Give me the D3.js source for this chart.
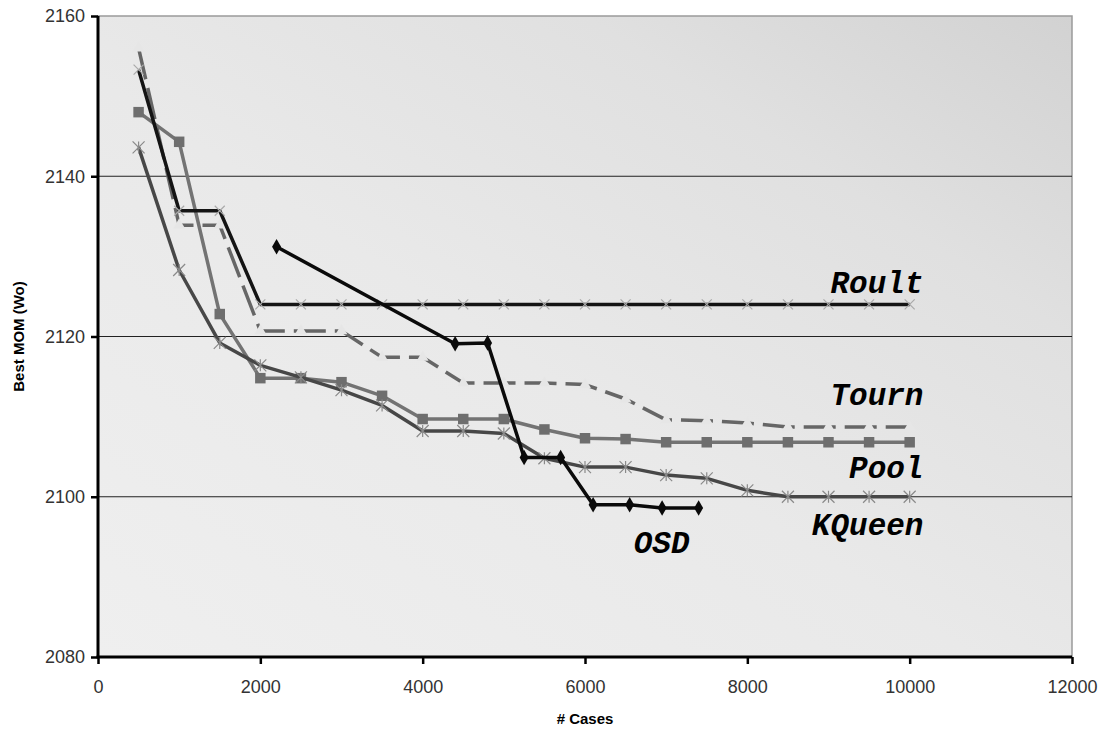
<!DOCTYPE html>
<html>
<head>
<meta charset="utf-8">
<script src="https://cdn.jsdelivr.net/npm/d3@7"></script>
<style>
    body { margin: 0; background: #fff; }
    svg { display: block; }
</style>
</head>
<body>
<div class="chart"></div>
<script>
// Data
const cases = [500, 1000, 1500, 2000, 2500, 3000, 3500, 4000, 4500, 5000,
    5500, 6000, 6500, 7000, 7500, 8000, 8500, 9000, 9500, 10000];
const roult = [2153.3, 2135.7, 2135.7, 2124.0, 2124.0, 2124.0, 2124.0, 2124.0, 2124.0, 2124.0,
    2124.0, 2124.0, 2124.0, 2124.0, 2124.0, 2124.0, 2124.0, 2124.0, 2124.0, 2124.0];
const tourn = [2156.0, 2133.9, 2133.9, 2120.7, 2120.7, 2120.7, 2117.4, 2117.4, 2114.2, 2114.2,
    2114.2, 2114.0, 2112.2, 2109.6, 2109.5, 2109.2, 2108.7, 2108.7, 2108.7, 2108.7];
const pool = [2148.0, 2144.3, 2122.8, 2114.8, 2114.8, 2114.3, 2112.6, 2109.7, 2109.7, 2109.7,
    2108.4, 2107.3, 2107.2, 2106.8, 2106.8, 2106.8, 2106.8, 2106.8, 2106.8, 2106.8];
const kqueen = [2143.6, 2128.3, 2119.2, 2116.4, 2114.9, 2113.3, 2111.4, 2108.2, 2108.2, 2107.9,
    2104.8, 2103.7, 2103.7, 2102.7, 2102.3, 2100.8, 2100.0, 2100.0, 2100.0, 2100.0];
const osdCases = [2200, 4400, 4800, 5250, 5700, 6100, 6550, 6950, 7400];
const osd = [2131.2, 2119.1, 2119.2, 2104.9, 2104.9, 2099.0, 2099.0, 2098.6, 2098.6];

const xTicks = [0, 2000, 4000, 6000, 8000, 10000, 12000];
const yTicks = [2080, 2100, 2120, 2140, 2160];

// label anchors (data units, right edge / baseline)
const labelNames = ["Roult", "Tourn", "Pool", "KQueen"];
const labelY = [2125.4, 2111.4, 2102.4, 2095.2];
const labelX = 10170;
const osdLabel = { name: "OSD", x: 6600, y: 2093.0 };

// SVG properties
const width = 1108, height = 732;
const plotLeft = 98, plotRight = 1072, plotTop = 16, plotBottom = 657;

const svg = d3.select(".chart").append("svg")
    .attr("width", width)
    .attr("height", height);

const xScale = d3.scaleLinear().domain([0, 12000]).range([plotLeft, plotRight]);
const yScale = d3.scaleLinear().domain([2080, 2160]).range([plotBottom, plotTop]);

// background gradient
const defs = svg.append("defs");
const grad = defs.append("linearGradient")
    .attr("id", "bg")
    .attr("x1", "0%").attr("y1", "100%")
    .attr("x2", "100%").attr("y2", "0%");
grad.append("stop").attr("offset", "0%").attr("stop-color", "#efefef");
grad.append("stop").attr("offset", "45%").attr("stop-color", "#e9e9e9");
grad.append("stop").attr("offset", "75%").attr("stop-color", "#e0e0e0");
grad.append("stop").attr("offset", "100%").attr("stop-color", "#d2d2d2");

svg.append("rect")
    .attr("x", plotLeft).attr("y", plotTop)
    .attr("width", plotRight - plotLeft).attr("height", plotBottom - plotTop)
    .attr("fill", "url(#bg)")
    .attr("stroke", "#9a9a9a")
    .attr("stroke-width", 1.5);

// gridlines
svg.append("g").selectAll("line")
    .data(yTicks.filter(d => d > 2080 && d < 2160))
    .enter().append("line")
    .attr("x1", plotLeft).attr("x2", plotRight)
    .attr("y1", d => yScale(d)).attr("y2", d => yScale(d))
    .attr("stroke", "#222")
    .attr("stroke-width", 1.2);

// axes
const xAxis = d3.axisBottom(xScale).tickValues(xTicks).tickSize(7).tickPadding(16).tickFormat(d3.format("d"));
const yAxis = d3.axisLeft(yScale).tickValues(yTicks).tickSize(7).tickPadding(6).tickFormat(d3.format("d"));

const gx = svg.append("g")
    .attr("transform", `translate(0, ${ plotBottom })`)
    .call(xAxis);
const gy = svg.append("g")
    .attr("transform", `translate(${ plotLeft }, 0)`)
    .call(yAxis);

[gx, gy].forEach(g => {
    g.select(".domain").attr("stroke", "#000").attr("stroke-width", 3);
    g.selectAll(".tick line").attr("stroke", "#000").attr("stroke-width", 2.5);
    g.selectAll(".tick text")
        .attr("font-family", "Liberation Sans, Arial, sans-serif")
        .attr("font-size", 18)
        .attr("fill", "#333");
});
gx.select(".domain").attr("d", `M${ plotLeft - 1.5 },0H${ plotRight }`);
gy.select(".domain").attr("d", `M0,${ plotTop }V${ plotBottom }`);

// axis titles
svg.append("text")
    .attr("x", (plotLeft + plotRight) / 2).attr("y", 724)
    .attr("text-anchor", "middle")
    .attr("font-family", "Liberation Sans, Arial, sans-serif")
    .attr("font-weight", "bold")
    .attr("font-size", 15)
    .text("# Cases");

svg.append("text")
    .attr("transform", `translate(24, ${ (plotTop + plotBottom) / 2 }) rotate(-90)`)
    .attr("text-anchor", "middle")
    .attr("font-family", "Liberation Sans, Arial, sans-serif")
    .attr("font-weight", "bold")
    .attr("font-size", 15)
    .text("Best MOM (Wo)");

// series
const line = d3.line().x(d => xScale(d[0])).y(d => yScale(d[1]));
const zip = (xs, ys) => xs.map((x, i) => [x, ys[i]]);

const series = [
    { name: "Pool", pts: zip(cases, pool), color: "#737373", dash: null, marker: "square", mcolor: "#6e6e6e", msize: 110 },
    { name: "Tourn", pts: zip(cases, tourn), color: "#666", dash: "32,9", marker: "triangle", mcolor: "#e6e6e6", msize: 60 },
    { name: "KQueen", pts: zip(cases, kqueen), color: "#474747", dash: null, marker: "asterisk", mcolor: "#8a8a8a", msize: 6 },
    { name: "Roult", pts: zip(cases, roult), color: "#141414", dash: null, marker: "cross", mcolor: "#aaa", msize: 5 },
    { name: "OSD", pts: zip(osdCases, osd), color: "#0a0a0a", dash: null, marker: "diamond", mcolor: "#0a0a0a", msize: 70 }
];

series.forEach(s => {
    const g = svg.append("g").attr("class", "series");
    g.append("path")
        .attr("d", line(s.pts))
        .attr("fill", "none")
        .attr("stroke", s.color)
        .attr("stroke-width", 3.5)
        .attr("stroke-linejoin", "round")
        .attr("stroke-dasharray", s.dash);

    const m = g.selectAll(".m").data(s.pts).enter().append("g")
        .attr("transform", d => `translate(${ xScale(d[0]) }, ${ yScale(d[1]) })`);

    if (s.marker === "square") {
        m.append("path").attr("d", d3.symbol(d3.symbolSquare, s.msize)).attr("fill", s.mcolor);
    } else if (s.marker === "diamond") {
        m.append("path").attr("d", d3.symbol(d3.symbolDiamond, s.msize)).attr("fill", s.mcolor);
    } else if (s.marker === "triangle") {
        m.append("path").attr("d", d3.symbol(d3.symbolTriangle, s.msize)).attr("fill", s.mcolor);
    } else {
        const r = s.msize;
        const p = `M${ -r },${ -r }L${ r },${ r }M${ -r },${ r }L${ r },${ -r }` +
            (s.marker === "asterisk" ? `M0,${ -r }L0,${ r }` : "");
        m.append("path").attr("d", p).attr("stroke", s.mcolor).attr("stroke-width", 1.2).attr("fill", "none");
    }
});

// series labels
const labelFont = "Liberation Mono, Courier New, monospace";
svg.append("g").selectAll("text")
    .data(labelNames)
    .enter().append("text")
    .attr("x", xScale(labelX))
    .attr("y", (d, i) => yScale(labelY[i]))
    .attr("text-anchor", "end")
    .attr("font-family", labelFont)
    .attr("font-weight", "bold")
    .attr("font-style", "italic")
    .attr("font-size", 31)
    .attr("fill", "#000")
    .text(d => d);

svg.append("text")
    .attr("x", xScale(osdLabel.x))
    .attr("y", yScale(osdLabel.y))
    .attr("font-family", labelFont)
    .attr("font-weight", "bold")
    .attr("font-style", "italic")
    .attr("font-size", 31)
    .attr("fill", "#000")
    .text(osdLabel.name);
</script>
</body>
</html>
